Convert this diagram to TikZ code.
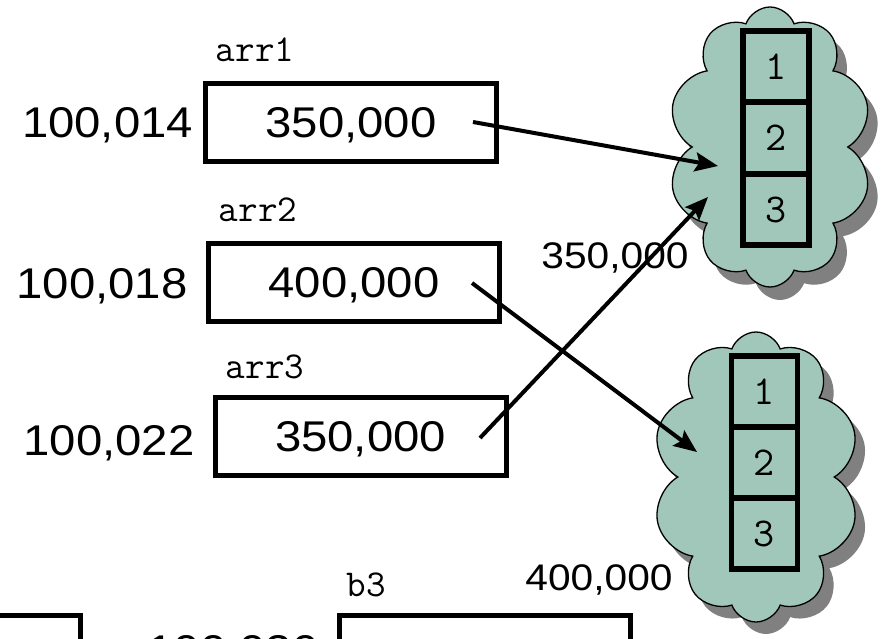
\documentclass[tikz,border=0pt]{standalone}
\usepackage{fontspec}
\setmainfont{Liberation Sans}
\newfontfamily\sansw[FakeStretch=1.1]{Liberation Sans}
\usetikzlibrary{arrows.meta,shapes.symbols}
\definecolor{cloudfill}{RGB}{160,199,185}
\definecolor{shadowgray}{RGB}{128,128,128}
\newcommand\bigf{\sansw\fontsize{43}{50}\selectfont}
\newcommand\medf{\sansw\fontsize{37}{44}\selectfont}
\newcommand\varf{\ttfamily\fontsize{38}{44}\selectfont}
\newcommand\cellf{\ttfamily\fontsize{41}{46}\selectfont}
\begin{document}
\begin{tikzpicture}[x=1pt,y=-1pt,
  valbox/.style={draw, line width=5pt, minimum width=291pt, minimum height=78pt, inner sep=0pt, text depth=0pt, font=\bigf},
  addr/.style={anchor=base, inner sep=0pt, font=\bigf},
  varname/.style={anchor=base, inner sep=0pt, font=\varf},
  lbl/.style={anchor=base, inner sep=0pt, font=\medf},
  cellbox/.style={draw, line width=5.5pt, fill=cloudfill, minimum width=66pt, minimum height=71pt, inner sep=0pt, font=\cellf},
  ptr/.style={line width=4pt, -{Stealth[length=23pt,width=19pt,inset=4pt]}},
  cloudbase/.style={cloud, cloud puffs=10, cloud puff arc=140, cloud ignores aspect, minimum width=204pt, minimum height=280pt, inner sep=0pt},
  cloudbody/.style={cloudbase, draw, line width=1.3pt, fill=cloudfill},
  cloudshadow/.style={cloudbase, fill=shadowgray, draw=none}
]
\useasboundingbox (0,0) rectangle (883,639);

% clouds with shadows
\node[cloudshadow] (sh1) at (780,160) {};
\node[cloudshadow, minimum width=207pt, minimum height=290pt] (sh2) at (766,489) {};
\node[cloudbody] (cl1) at (770,147) {};
\node[cloudbody, minimum width=207pt, minimum height=290pt] (cl2) at (756,477) {};

% cells in cloud 1
\node[cellbox] (a1) at (776,66.5) {1};
\node[cellbox] (a2) at (776,138) {2};
\node[cellbox] (a3) at (776,209.5) {3};
% cells in cloud 2
\node[cellbox] (b1) at (764.5,391.5) {1};
\node[cellbox] (b2) at (764.5,462.5) {2};
\node[cellbox] (b3c) at (764.5,533.5) {3};

% variable boxes
\node[valbox] (arr1) at (351,122.5) {350,000};
\node[valbox] (arr2) at (354,282.5) {400,000};
\node[valbox] (arr3) at (360.5,436.5) {350,000};
\node[valbox] (bbox3) at (484.5,654) {};
\node[valbox] (bbox2) at (-65,654) {};

% variable names
\node[varname] (n1) at (255,62) {arr1};
\node[varname] (n2) at (258,222) {arr2};
\node[varname] (n3) at (265,378) {arr3};
\node[varname] (n4) at (366,596) {b3};

% addresses
\node[addr] (ad1) at (107.5,138) {100,014};
\node[addr] (ad2) at (102,298) {100,018};
\node[addr] (ad3) at (109,455) {100,022};
\node[addr] (ad4) at (233,665) {100,030};

% cloud address labels
\node[lbl] (l1) at (615,268) {350,000};
\node[lbl] (l2) at (599,590) {400,000};

% pointers
\coordinate (s1) at (473,122);
\coordinate (e1) at (718,166);
\coordinate (s2) at (472,283);
\coordinate (e2) at (697,452);
\coordinate (s3) at (480,438);
\coordinate (e3) at (708,197);
\draw[ptr] (s1) -- (e1);
\draw[ptr] (s2) -- (e2);
\draw[ptr] (s3) -- (e3);
\end{tikzpicture}
\end{document}
